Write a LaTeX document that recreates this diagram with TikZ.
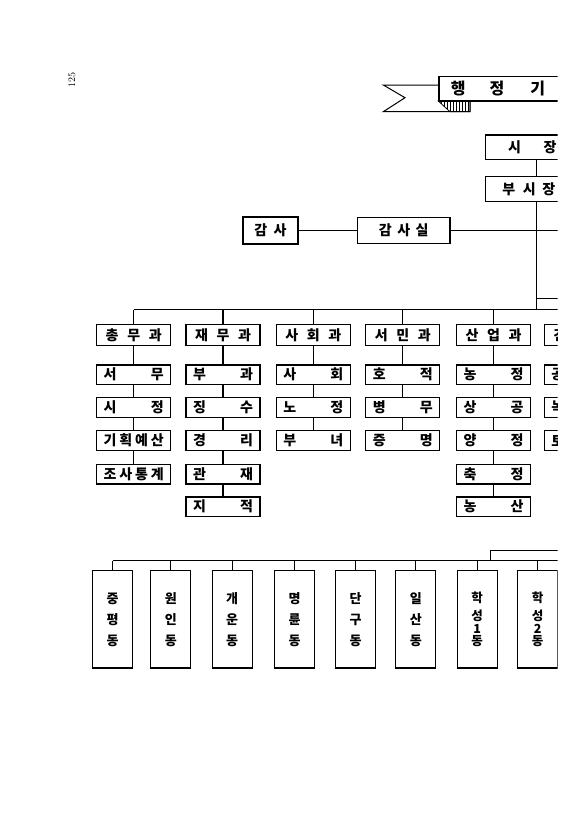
\documentclass[tikz,border=0pt]{standalone}
\usepackage{fontspec}
\newfontfamily\kr{Noto Sans CJK KR}
\usetikzlibrary{patterns}
\begin{document}
\begin{tikzpicture}[x=1pt,y=-1pt,line width=1.1pt,
  box/.style={draw, line width=1.3pt, inner sep=0pt, fill=white, font=\kr\bfseries\fontsize{14}{14}\selectfont},
  headbox/.style={box, minimum height=24.3pt},
  deptbox/.style={box, minimum width=74pt, minimum height=21pt},
  unitbox/.style={box, minimum width=74pt, minimum height=19.5pt},
  dongbox/.style={box, minimum width=40pt, minimum height=97.3pt, align=center, font=\kr\bfseries\fontsize{13}{21}\selectfont},
  longdong/.style={font=\kr\bfseries\fontsize{12.5}{12.5}\selectfont}]
\useasboundingbox (0,0) rectangle (586,830);
\clip (0,0) rectangle (557.5,830);
\node [rotate=90, font=\fontsize{10}{10}\selectfont] (page) at (72,80) {125};
% banner
\draw [line width=1pt] (438.3,85) -- (383.3,85) -- (405,97.7) -- (383.3,111.7) -- (470,111.7) -- (470,101);
\draw [line width=0.8pt, pattern=vertical lines] (438.3,101) -- (450,111.7) -- (470,111.7) -- (470,101) -- cycle;
\node [headbox, anchor=west, font=\kr\bfseries\fontsize{16}{16}\selectfont] (title) at (438.3,88.9) {\makebox[200pt][l]{\hspace*{12pt}행\hspace{24pt}정\hspace{26pt}기}};
% top
\node [headbox] (mayor) at (536.2,147.2) {\makebox[101pt][l]{\hspace*{22.3pt}시\hspace{22.7pt}장}};
\node [headbox, minimum height=25.5pt] (vice) at (536.2,188.9) {\makebox[101pt][l]{\hspace*{16.6pt}부\hspace{7.7pt}시\hspace{6.7pt}장}};
\node [headbox, line width=1.8pt, minimum width=55.6pt, minimum height=26.6pt] (auditor) at (270.5,230.5) {감\hspace{6.5pt}사};
\node [headbox, minimum width=92.3pt, minimum height=26.3pt] (auditoffice) at (403.8,230.5) {감\hspace{5.5pt}사\hspace{5.5pt}실};
\coordinate (bus) at (0,309.5);
\coordinate (busend) at (600,309.5);
\coordinate (spine) at (536.2,309.5);
\coordinate (branch) at (536.2,298.5);
\coordinate (branchend) at (600,298.5);
\coordinate (auditend) at (600,230.5);
\draw (mayor) -- (vice);
\draw (vice) -- (spine);
\draw (auditor) -- (auditoffice);
\draw (auditoffice) -- (auditend);
\draw (branch) -- (branchend);
% departments
\node [deptbox] (d1) at (133.7,335.3) {\makebox[56pt]{총\hfill 무\hfill 과}};
\node [deptbox] (d2) at (223,335.3) {\makebox[56pt]{재\hfill 무\hfill 과}};
\node [deptbox] (d3) at (313.3,335.3) {\makebox[56pt]{사\hfill 회\hfill 과}};
\node [deptbox] (d4) at (402.8,335.3) {\makebox[56pt]{서\hfill 민\hfill 과}};
\node [deptbox] (d5) at (493.5,335.3) {\makebox[56pt]{산\hfill 업\hfill 과}};
\node [deptbox] (d6) at (581.3,335.3) {\makebox[56pt][l]{건}};
\node [unitbox] (d1a) at (133.7,374.7) {\makebox[60pt]{서\hfill 무}};
\node [unitbox] (d1b) at (133.7,407.5) {\makebox[60pt]{시\hfill 정}};
\node [unitbox] (d1c) at (133.7,440.5) {\makebox[60pt]{기\hfill 획\hfill 예\hfill 산}};
\node [unitbox] (d1d) at (133.7,474.2) {\makebox[60pt]{조\hfill 사\hfill 통\hfill 계}};
\node [unitbox] (d2a) at (223,374.7) {\makebox[60pt]{부\hfill 과}};
\node [unitbox] (d2b) at (223,407.5) {\makebox[60pt]{징\hfill 수}};
\node [unitbox] (d2c) at (223,440.5) {\makebox[60pt]{경\hfill 리}};
\node [unitbox] (d2d) at (223,474.2) {\makebox[60pt]{관\hfill 재}};
\node [unitbox] (d2e) at (223,506.7) {\makebox[60pt]{지\hfill 적}};
\node [unitbox] (d3a) at (313.3,374.7) {\makebox[60pt]{사\hfill 회}};
\node [unitbox] (d3b) at (313.3,407.5) {\makebox[60pt]{노\hfill 정}};
\node [unitbox] (d3c) at (313.3,440.5) {\makebox[60pt]{부\hfill 녀}};
\node [unitbox] (d4a) at (402.8,374.7) {\makebox[60pt]{호\hfill 적}};
\node [unitbox] (d4b) at (402.8,407.5) {\makebox[60pt]{병\hfill 무}};
\node [unitbox] (d4c) at (402.8,440.5) {\makebox[60pt]{증\hfill 명}};
\node [unitbox] (d5a) at (493.5,374.7) {\makebox[60pt]{농\hfill 정}};
\node [unitbox] (d5b) at (493.5,407.5) {\makebox[60pt]{상\hfill 공}};
\node [unitbox] (d5c) at (493.5,440.5) {\makebox[60pt]{양\hfill 정}};
\node [unitbox] (d5d) at (493.5,474.2) {\makebox[60pt]{축\hfill 정}};
\node [unitbox] (d5e) at (493.5,506.7) {\makebox[60pt]{농\hfill 산}};
\node [unitbox] (d6a) at (581.3,374.7) {\makebox[60pt][l]{공}};
\node [unitbox] (d6b) at (581.3,407.5) {\makebox[60pt][l]{녹}};
\node [unitbox] (d6c) at (581.3,440.5) {\makebox[60pt][l]{토}};
\draw (d1.north |- bus) -- (busend);
\draw (d1) -- (d1.north |- bus);
\draw (d2) -- (d2.north |- bus);
\draw (d3) -- (d3.north |- bus);
\draw (d4) -- (d4.north |- bus);
\draw (d5) -- (d5.north |- bus);
\draw (d1) -- (d1a) -- (d1b) -- (d1c) -- (d1d);
\draw (d2) -- (d2a) -- (d2b) -- (d2c) -- (d2d) -- (d2e);
\draw (d3) -- (d3a) -- (d3b) -- (d3c);
\draw (d4) -- (d4a) -- (d4b) -- (d4c);
\draw (d5) -- (d5a) -- (d5b) -- (d5c) -- (d5d) -- (d5e);
% dong offices
\node [dongbox] (g1) at (112.5,619.4) {중\\평\\동};
\node [dongbox] (g2) at (170.8,619.4) {원\\인\\동};
\node [dongbox] (g3) at (232.2,619.4) {개\\운\\동};
\node [dongbox] (g4) at (294.5,619.4) {명\\륜\\동};
\node [dongbox] (g5) at (355.7,619.4) {단\\구\\동};
\node [dongbox] (g6) at (415.8,619.4) {일\\산\\동};
\node [dongbox, longdong] (g7) at (477.2,619.4) {학\\[5.5pt]성\\1\\동};
\node [dongbox, longdong] (g8) at (537.7,619.4) {학\\[5.5pt]성\\2\\동};
\coordinate (dongbus) at (0,560.7);
\coordinate (dongbusend) at (600,560.7);
\coordinate (dongup) at (490.7,550.7);
\coordinate (dongupend) at (600,550.7);
\draw (g1.north |- dongbus) -- (dongbusend);
\draw (dongup |- dongbus) -- (dongup) -- (dongupend);
\draw (g1) -- (g1.north |- dongbus);
\draw (g2) -- (g2.north |- dongbus);
\draw (g3) -- (g3.north |- dongbus);
\draw (g4) -- (g4.north |- dongbus);
\draw (g5) -- (g5.north |- dongbus);
\draw (g6) -- (g6.north |- dongbus);
\draw (g7) -- (g7.north |- dongbus);
\draw (g8) -- (g8.north |- dongbus);
\end{tikzpicture}
\end{document}
